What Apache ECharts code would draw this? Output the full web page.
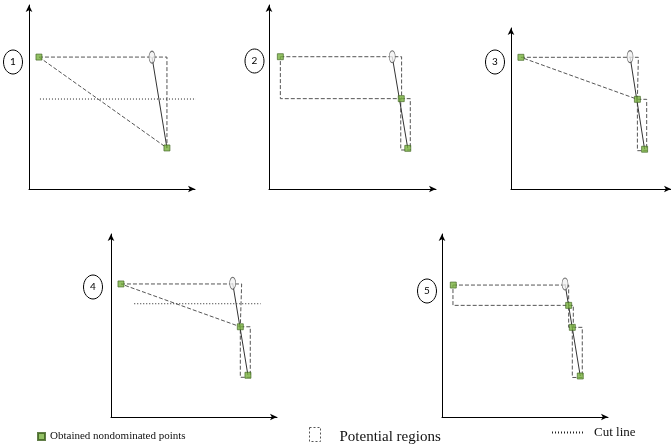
<!DOCTYPE html>
<html><head><meta charset="utf-8">
<script src="https://cdn.jsdelivr.net/npm/echarts@6/dist/echarts.min.js"></script>
<style>html,body{margin:0;padding:0;background:#fff}#c{width:671px;height:446px}</style>
</head><body><div id="c"></div>
<script>
// ---------- data (abstract objective space, 0..100 per panel) ----------
const panelLabels = ['1', '2', '3', '4', '5'];

const p1Points  = [[6.0, 71.7], [83.1, 22.3]];
const p1Ideal   = [[74.1, 71.7]];
const p1Solid   = [[74.1, 71.7], [83.1, 22.3]];
const p1Regions = [[[6.0, 71.7], [83.1, 71.7], [83.1, 22.3], [6.0, 71.7]]];
const p1Cut     = [[6.6, 48.9], [101.8, 48.9]];

const p2Points  = [[6.8, 71.9], [79.2, 49.1], [83.1, 22.1]];
const p2Ideal   = [[73.8, 71.9]];
const p2Solid   = [[73.8, 71.9], [83.1, 22.1]];
const p2Regions = [
  [[6.8, 71.9], [79.4, 71.9], [79.4, 49.1], [6.8, 49.1], [6.8, 71.9]],
  [[78.9, 49.1], [84.6, 49.1], [84.6, 21.2], [78.9, 21.2], [78.9, 49.1]]
];
const p2Cut     = [];

const p3Points  = [[6.2, 81.8], [79.0, 55.7], [83.5, 24.7]];
const p3Ideal   = [[74.4, 82.2]];
const p3Solid   = [[74.4, 82.2], [83.5, 24.7]];
const p3Regions = [
  [[6.2, 81.8], [79.6, 81.8], [79.0, 55.7], [6.2, 81.8]],
  [[79.0, 55.7], [84.8, 55.7], [84.8, 23.8], [79.0, 23.8], [79.0, 55.7]]
];
const p3Cut     = [];

const p4Points  = [[6.0, 72.7], [77.9, 49.3], [82.5, 22.8]];
const p4Ideal   = [[73.3, 73.1]];
const p4Solid   = [[73.3, 73.1], [82.5, 22.8]];
const p4Regions = [
  [[6.0, 72.7], [78.7, 72.7], [77.9, 49.3], [6.0, 72.7]],
  [[77.9, 49.3], [83.9, 49.3], [83.9, 21.7], [77.9, 21.7], [77.9, 49.3]]
];
const p4Cut     = [[14.0, 61.9], [90.2, 61.9]];

const p5Points  = [[6.8, 72.1], [76.3, 61.0], [78.5, 49.0], [83.3, 22.4]];
const p5Ideal   = [[74.1, 72.7]];
const p5Solid   = [[74.1, 72.7], [83.3, 22.4]];
const p5Regions = [
  [[6.6, 72.1], [76.3, 72.1], [76.3, 61.0], [6.6, 61.0], [6.6, 72.1]],
  [[76.3, 61.0], [79.1, 61.0], [79.1, 49.0], [76.3, 49.0], [76.3, 61.0]],
  [[78.5, 49.0], [84.5, 49.0], [84.5, 21.6], [78.5, 21.6], [78.5, 49.0]]
];
const p5Cut     = [];

const legendNames = ['Obtained nondominated points', 'Potential regions', 'Cut line'];

// ---------- layout ----------
const allPoints  = [p1Points, p2Points, p3Points, p4Points, p5Points];
const allIdeal   = [p1Ideal, p2Ideal, p3Ideal, p4Ideal, p5Ideal];
const allSolid   = [p1Solid, p2Solid, p3Solid, p4Solid, p5Solid];
const allRegions = [p1Regions, p2Regions, p3Regions, p4Regions, p5Regions];
const allCut     = [p1Cut, p2Cut, p3Cut, p4Cut, p5Cut];

const grids = [
  {left: 29,  top: 5,   width: 166, height: 184},
  {left: 269, top: 5,   width: 167, height: 184},
  {left: 511, top: 28,  width: 165, height: 161},
  {left: 111, top: 234, width: 166, height: 183},
  {left: 442, top: 234, width: 166, height: 183}
];
const labelPos = [[13, 62], [254.5, 61], [495, 62], [93, 287], [427, 291]];

const axisBase = {
  type: 'value', min: 0, max: 100,
  axisLine: {show: true, onZero: false, symbol: ['none', 'arrow'], symbolSize: [5, 7],
             lineStyle: {color: '#000', width: 1}},
  axisTick: {show: false}, axisLabel: {show: false}, splitLine: {show: false}
};

const xAxes = [], yAxes = [], series = [], graphic = [];
grids.forEach((g, i) => {
  xAxes.push(Object.assign({gridIndex: i}, axisBase));
  yAxes.push(Object.assign({gridIndex: i}, axisBase));
  allRegions[i].forEach(r => series.push({
    type: 'line', name: legendNames[1], xAxisIndex: i, yAxisIndex: i, data: r,
    symbol: 'none', clip: false, silent: true, z: 2,
    lineStyle: {color: '#555', width: 1, type: [4, 2]}
  }));
  if (allCut[i].length) series.push({
    type: 'line', name: legendNames[2], xAxisIndex: i, yAxisIndex: i, data: allCut[i],
    symbol: 'none', clip: false, silent: true, z: 2,
    itemStyle: {color: '#222'},
    lineStyle: {color: '#222', width: 1, type: [1, 2]}
  });
  series.push({
    type: 'line', name: 'frontier', xAxisIndex: i, yAxisIndex: i, data: allSolid[i],
    symbol: 'none', clip: false, silent: true, z: 3,
    lineStyle: {color: '#333', width: 1}
  });
  series.push({
    type: 'scatter', name: 'ideal', xAxisIndex: i, yAxisIndex: i, data: allIdeal[i],
    symbol: 'circle', symbolSize: [6, 12], clip: false, silent: true, z: 4,
    itemStyle: {color: '#f2f2f2', borderColor: '#444', borderWidth: 0.8}
  });
  series.push({
    type: 'scatter', name: legendNames[0], xAxisIndex: i, yAxisIndex: i, data: allPoints[i],
    symbol: 'rect', symbolSize: 6, clip: false, silent: true, z: 5,
    itemStyle: {color: '#78b13f', borderColor: '#3b5e1c', borderWidth: 0.8}
  });
  graphic.push({
    type: 'ellipse', shape: {cx: labelPos[i][0], cy: labelPos[i][1], rx: 9.5, ry: 12},
    style: {fill: '#fff', stroke: '#000', lineWidth: 1}
  });
  graphic.push({
    type: 'text', x: labelPos[i][0], y: labelPos[i][1],
    style: {text: panelLabels[i], fill: '#000', font: '10px Lato', textAlign: 'center', textVerticalAlign: 'middle'}
  });
});

const serif = 'Liberation Serif';
const option = {
  animation: false,
  grid: grids,
  xAxis: xAxes,
  yAxis: yAxes,
  series: series,
  graphic: graphic,
  legend: [
    {left: 37, top: 431, padding: 0, itemWidth: 7, itemHeight: 7, selectedMode: false,
     textStyle: {fontFamily: serif, fontSize: 11, color: '#111'},
     data: [{name: legendNames[0], icon: 'rect'}]},
    {left: 309, top: 427, padding: 0, itemWidth: 11, itemHeight: 14, selectedMode: false,
     formatter: function (n) { return '{b| }{a|' + n + '}'; },
     textStyle: {fontFamily: serif, fontSize: 15, color: '#111', padding: [0, 0, 0, 13],
       rich: {
         a: {fontFamily: serif, fontSize: 15, color: '#111', height: 18, verticalAlign: 'bottom'},
         b: {fontFamily: serif, fontSize: 15, height: 24, width: 1}
       }},
     data: [{name: legendNames[1], icon: 'rect',
             itemStyle: {color: '#fff', borderColor: '#555', borderWidth: 1, borderType: [2, 2]}}]},
    {left: 551, top: 426, padding: 0, itemWidth: 31, itemHeight: 10, selectedMode: false,
     textStyle: {fontFamily: serif, fontSize: 13, color: '#111', padding: [0, 0, 0, 6]},
     data: [{name: legendNames[2], itemStyle: {color: 'rgba(0,0,0,0)', borderWidth: 0, opacity: 0}}]}
  ]
};
echarts.init(document.getElementById('c')).setOption(option);
</script></body></html>
